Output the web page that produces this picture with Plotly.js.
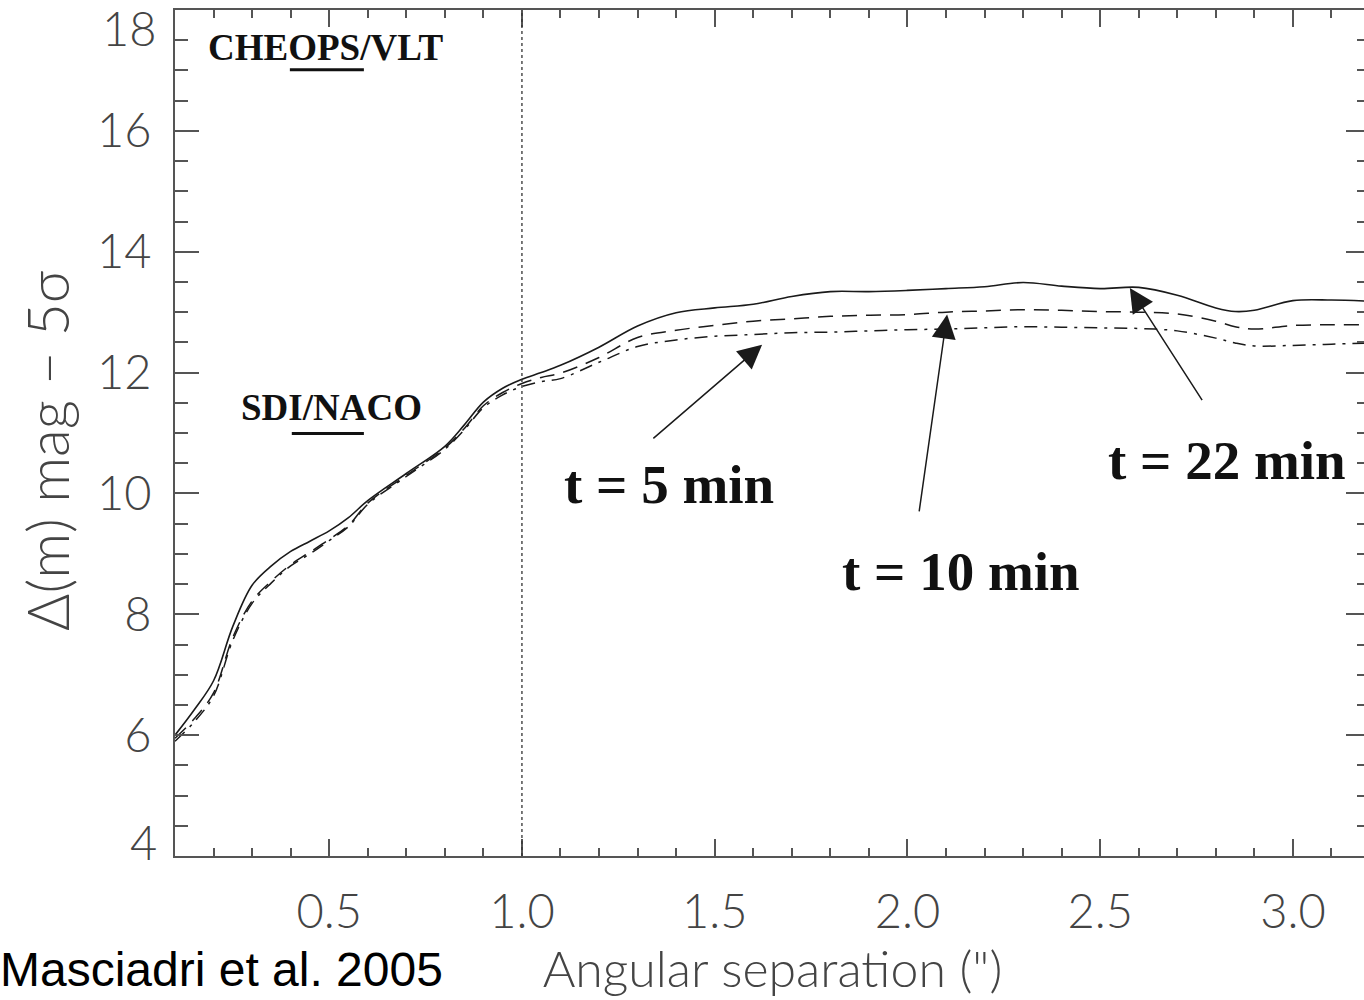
<!DOCTYPE html>
<html>
<head>
<meta charset="utf-8">
<script src="https://cdn.plot.ly/plotly-3.0.1.min.js"></script>
<style>
html,body{margin:0;padding:0;overflow:hidden;background:#fff;}
#chart{width:1372px;height:1000px;}
</style>
</head>
<body>
<div id="chart"></div>
<script>
// Angular separation (arcsec)
const separation = [0.1,0.15,0.2,0.25,0.3,0.35,0.4,0.45,0.5,0.55,0.6,0.7,0.8,0.85,0.9,0.95,1.0,1.05,1.1,1.2,1.3,1.4,1.5,1.6,1.7,1.8,1.9,2.0,2.1,2.2,2.3,2.4,2.5,2.6,2.7,2.8,2.85,2.9,3.0,3.1,3.2];
// t = 22 min (solid)
const contrast22 = [6.0,6.42,6.9,7.8,8.48,8.80,9.04,9.21,9.38,9.6,9.88,10.33,10.78,11.13,11.51,11.74,11.89,12.0,12.12,12.42,12.77,12.99,13.07,13.13,13.26,13.34,13.34,13.36,13.39,13.42,13.49,13.43,13.39,13.41,13.28,13.07,13.01,13.03,13.19,13.20,13.18];
// t = 10 min (dashed)
const contrast10 = [5.95,6.27,6.7,7.62,8.22,8.55,8.82,9.03,9.24,9.47,9.84,10.30,10.75,11.07,11.45,11.67,11.82,11.92,11.99,12.25,12.58,12.7,12.78,12.85,12.89,12.93,12.95,12.96,13.0,13.02,13.04,13.03,13.01,13.0,12.97,12.85,12.76,12.72,12.78,12.79,12.79];
// t = 5 min (dash-dot)
const contrast5 = [5.9,6.22,6.65,7.57,8.18,8.52,8.80,9.00,9.22,9.45,9.82,10.28,10.73,11.05,11.42,11.63,11.77,11.85,11.9,12.17,12.43,12.54,12.6,12.63,12.66,12.67,12.69,12.71,12.72,12.74,12.76,12.75,12.74,12.73,12.69,12.57,12.49,12.44,12.45,12.47,12.49];

const xTickVals = [0.5,1.0,1.5,2.0,2.5,3.0];
const xTickText = ["0.5","1.0","1.5","2.0","2.5","3.0"];
const yTickVals = [6,8,10,12,14,16];
const yTickText = ["6","8","10","12","14","16"];

const thinFamily = "Lato, Roboto, 'DejaVu Sans', sans-serif";
const tickFont = {family:thinFamily, size:47, color:"#444", weight:300};
const serifBold = {family:"'Liberation Serif', 'Times New Roman', serif", color:"#111", weight:"bold"};

const traces = [
  {x:separation, y:contrast22, mode:"lines", line:{color:"#1a1a1a", width:1.6, shape:"spline", smoothing:1}, name:"t = 22 min"},
  {x:separation, y:contrast10, mode:"lines", line:{color:"#1a1a1a", width:1.5, shape:"spline", smoothing:1, dash:"15px,9px"}, name:"t = 10 min"},
  {x:separation, y:contrast5, mode:"lines", line:{color:"#1a1a1a", width:1.5, shape:"spline", smoothing:1, dash:"13px,7px,3px,7px"}, name:"t = 5 min"}
];

const arrowStyle = {showarrow:true, arrowhead:2, arrowsize:3.2, arrowwidth:1.5, arrowcolor:"#1a1a1a", axref:"x", ayref:"y", xref:"x", yref:"y", text:""};

const layout = {
  width:1372, height:1000,
  margin:{l:175, r:2, t:10, b:144},
  paper_bgcolor:"#fff", plot_bgcolor:"#fff",
  showlegend:false,
  xaxis:{
    range:[0.1,3.2], showgrid:false, zeroline:false,
    showline:true, linecolor:"#555", linewidth:2, mirror:"ticks",
    ticks:"inside", ticklen:17, tickwidth:2, tickcolor:"#555",
    tickvals:xTickVals, ticktext:xTickText, tickfont:tickFont,
    ticklabelstandoff:14,
    minor:{dtick:0.1, tick0:0.1, ticks:"inside", ticklen:8, tickwidth:2, tickcolor:"#555"},
    title:{text:"Angular separation (\")", font:{family:thinFamily, size:50, color:"#444", weight:300}, standoff:10}
  },
  yaxis:{
    range:[4,18], showgrid:false, zeroline:false,
    showline:true, linecolor:"#555", linewidth:2, mirror:"ticks",
    ticks:"inside", ticklen:24, tickwidth:2, tickcolor:"#555",
    tickvals:yTickVals, ticktext:yTickText, tickfont:tickFont,
    ticklabelstandoff:12,
    minor:{dtick:0.5, tick0:4, ticks:"inside", ticklen:13, tickwidth:2, tickcolor:"#555"}
  },
  shapes:[
    {type:"line", xref:"x", yref:"paper", x0:1.0, x1:1.0, y0:0, y1:1, line:{color:"#333", width:1.3, dash:"dot"}},
    {type:"line", xref:"x", yref:"y", x0:0.398, x1:0.590, y0:17.01, y1:17.01, line:{color:"#111", width:3}},
    {type:"line", xref:"x", yref:"y", x0:0.403, x1:0.590, y0:10.99, y1:10.99, line:{color:"#111", width:3}}
  ],
  annotations:[
    {xref:"paper", yref:"paper", x:-0.107, y:0.479, xanchor:"center", yanchor:"middle", textangle:-90, text:"Δ(m) mag − 5σ", showarrow:false, font:{family:thinFamily, size:57, color:"#444", weight:300}},
    {xref:"paper", yref:"y", x:0, y:18, xanchor:"right", yanchor:"middle", xshift:-16, yshift:-18, text:"18", showarrow:false, font:tickFont},
    {xref:"paper", yref:"y", x:0, y:4, xanchor:"right", yanchor:"middle", xshift:-16, yshift:14, text:"4", showarrow:false, font:tickFont},
    {xref:"x", yref:"y", x:0.49, y:17.38, text:"CHEOPS/VLT", showarrow:false, font:Object.assign({size:37}, serifBold)},
    {xref:"x", yref:"y", x:0.505, y:11.42, text:"SDI/NACO", showarrow:false, font:Object.assign({size:37}, serifBold)},
    {xref:"x", yref:"y", x:1.381, y:10.14, text:"t = 5 min", showarrow:false, font:Object.assign({size:55}, serifBold)},
    {xref:"x", yref:"y", x:2.139, y:8.70, text:"t = 10 min", showarrow:false, font:Object.assign({size:55}, serifBold)},
    {xref:"x", yref:"y", x:2.829, y:10.54, text:"t = 22 min", showarrow:false, font:Object.assign({size:55}, serifBold)},
    Object.assign({x:1.623, y:12.46, ax:1.337, ay:10.89}, arrowStyle),
    Object.assign({x:2.103, y:12.96, ax:2.030, ay:9.68}, arrowStyle),
    Object.assign({x:2.577, y:13.40, ax:2.767, ay:11.52}, arrowStyle),
    {xref:"paper", yref:"paper", x:-0.148, y:-0.1678, xanchor:"left", yanchor:"bottom", text:"Masciadri et al. 2005", showarrow:false, font:{family:"'Liberation Sans', Arial, sans-serif", size:48, color:"#000"}}
  ]
};

Plotly.newPlot("chart", traces, layout, {staticPlot:true, displayModeBar:false});
</script>
</body>
</html>
